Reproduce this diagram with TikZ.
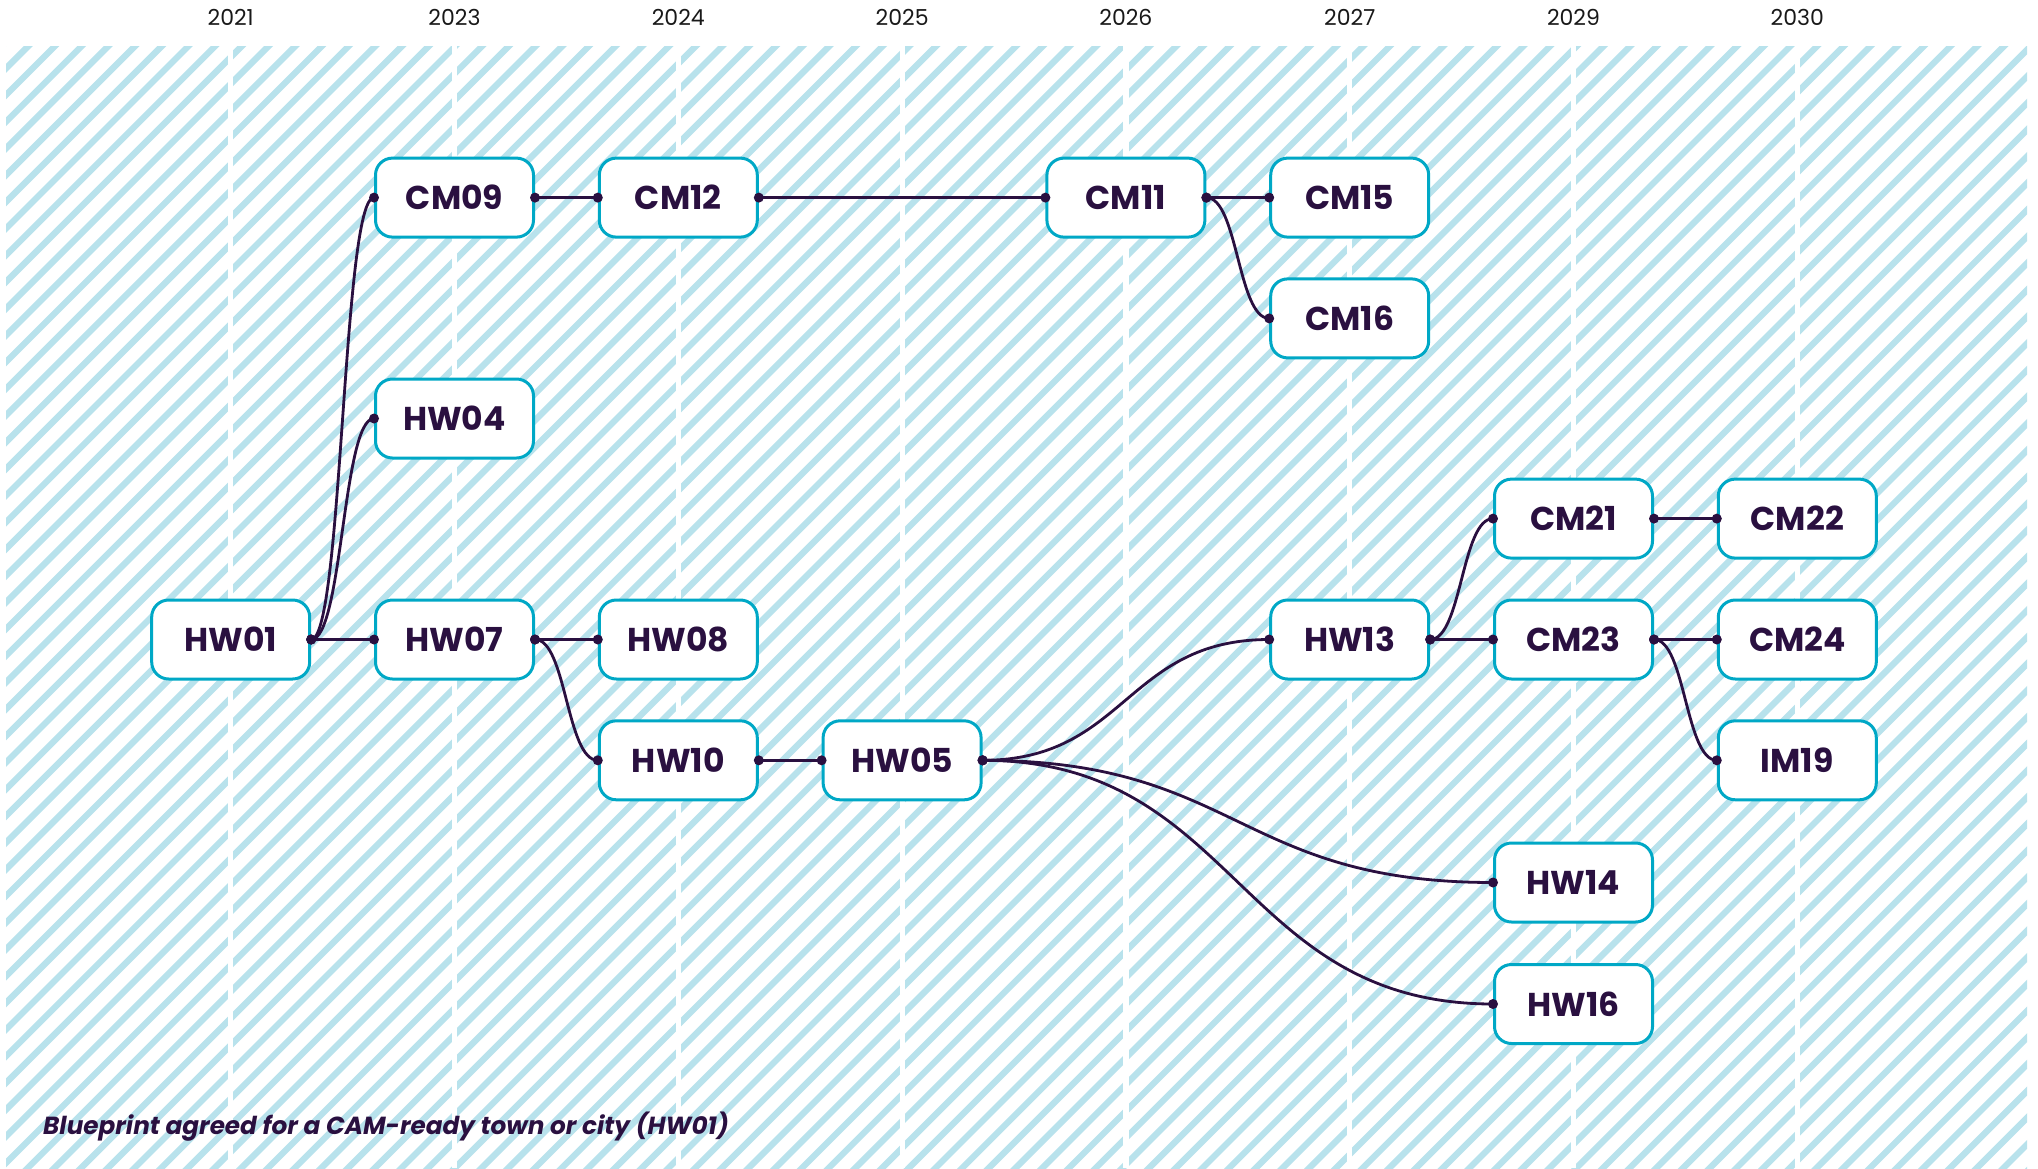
\documentclass[tikz,border=0pt]{standalone}
\usepackage{fontspec}
\setmainfont{Poppins}
\usetikzlibrary{calc}
\definecolor{stripe}{RGB}{184,226,236}
\definecolor{teal}{RGB}{0,168,198}
\definecolor{ink}{RGB}{42,16,64}
\definecolor{yr}{RGB}{25,25,25}
\newcommand\lnk[2]{%
  \draw[link] let \p1=(#1.east), \p2=(#2.west) in (\p1) .. controls ({(\x1+\x2)/2},\y1) and ({(\x1+\x2)/2},\y2) .. (\p2);
  \fill[ink] (#1.east) circle (5);
  \fill[ink] (#2.west) circle (5);}
\begin{document}
\begin{tikzpicture}[x=1pt,y=-1pt,
  box/.style={draw=teal,line width=3pt,fill=white,rounded corners=17pt,
    minimum width=158pt,minimum height=79pt,inner sep=0pt,
    text=ink,font=\fontsize{33}{40}\selectfont\bfseries},
  year/.style={text=yr,font=\fontsize{22}{26}\selectfont,inner sep=0pt},
  link/.style={draw=ink,line width=2.8pt},
  stripeline/.style={draw=stripe,line width=6.3pt}]
\useasboundingbox (0,0) rectangle (2038,1168);
\fill[white] (0,0) rectangle (2038,1168);
% hatch
\begin{scope}
\clip (6,46) rectangle (2027,1168);
\foreach \n in {-3,...,122}{
  \pgfmathsetmacro\cc{101+\n*26.7}
  \draw[stripeline] ({\cc-1200},1200) -- ({\cc-20},20);
}
\end{scope}
\def\ca{230.7}\def\cb{454.5}\def\cc{678.3}\def\cd{902.1}
\def\ce{1125.9}\def\cf{1349.7}\def\cg{1573.5}\def\ch{1797.3}
\foreach \x in {\ca,\cb,\cc,\cd,\ce,\cf,\cg,\ch}{
  \fill[white] ({\x-2.6},46) rectangle ({\x+2.6},1168);
}
% years
\node[year] (y1) at (\ca,17) {2021};
\node[year] (y2) at (\cb,17) {2023};
\node[year] (y3) at (\cc,17) {2024};
\node[year] (y4) at (\cd,17) {2025};
\node[year] (y5) at (\ce,17) {2026};
\node[year] (y6) at (\cf,17) {2027};
\node[year] (y7) at (\cg,17) {2029};
\node[year] (y8) at (\ch,17) {2030};
% nodes
\def\ra{197.6}\def\rb{318.4}\def\rc{418.5}\def\rd{518.6}
\def\re{639.5}\def\rf{760.3}\def\rg{882.5}\def\rh{1004}
\node[box] (HW01) at (\ca,\re) {HW01};
\node[box] (CM09) at (\cb,\ra) {CM09};
\node[box] (HW04) at (\cb,\rc) {HW04};
\node[box] (HW07) at (\cb,\re) {HW07};
\node[box] (CM12) at (\cc,\ra) {CM12};
\node[box] (HW08) at (\cc,\re) {HW08};
\node[box] (HW10) at (\cc,\rf) {HW10};
\node[box] (HW05) at (\cd,\rf) {HW05};
\node[box] (CM11) at (\ce,\ra) {CM11};
\node[box] (CM15) at (\cf,\ra) {CM15};
\node[box] (CM16) at (\cf,\rb) {CM16};
\node[box] (HW13) at (\cf,\re) {HW13};
\node[box] (CM21) at (\cg,\rd) {CM21};
\node[box] (CM23) at (\cg,\re) {CM23};
\node[box] (HW14) at (\cg,\rg) {HW14};
\node[box] (HW16) at (\cg,\rh) {HW16};
\node[box] (CM22) at (\ch,\rd) {CM22};
\node[box] (CM24) at (\ch,\re) {CM24};
\node[box] (IM19) at (\ch,\rf) {IM19};
% links
\lnk{HW01}{CM09}
\lnk{HW01}{HW04}
\lnk{HW01}{HW07}
\lnk{CM09}{CM12}
\lnk{CM12}{CM11}
\lnk{CM11}{CM15}
\lnk{CM11}{CM16}
\lnk{HW07}{HW08}
\lnk{HW07}{HW10}
\lnk{HW10}{HW05}
\lnk{HW05}{HW13}
\lnk{HW05}{HW14}
\lnk{HW05}{HW16}
\lnk{HW13}{CM21}
\lnk{HW13}{CM23}
\lnk{CM21}{CM22}
\lnk{CM23}{CM24}
\lnk{CM23}{IM19}
% caption
\node[anchor=west,inner sep=0pt,text=ink,font=\fontsize{24.7}{29}\selectfont\bfseries\itshape] (cap) at (43,1127) {Blueprint agreed for a CAM-ready town or city (HW01)};
\end{tikzpicture}
\end{document}
